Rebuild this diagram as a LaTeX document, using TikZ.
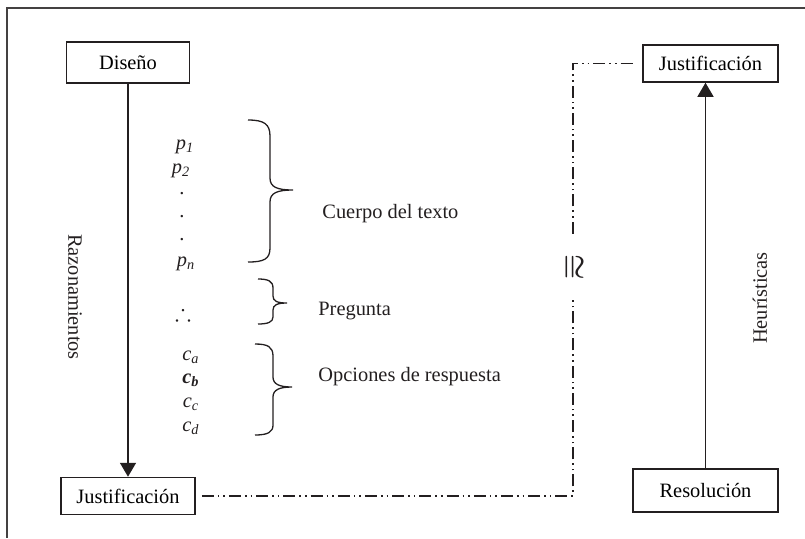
\documentclass[tikz,border=0pt]{standalone}
\usepackage{fontspec}
\usepackage{amssymb}
\setmainfont{Liberation Serif}
\usetikzlibrary{arrows.meta,calc}
\definecolor{ink}{HTML}{231F20}
\tikzset{
  box/.style={draw=ink,line width=0.75pt,inner sep=0pt,align=center,font=\fontsize{10.2}{12}\selectfont},
  txt/.style={inner sep=0pt,text=ink,font=\fontsize{10.2}{12}\selectfont},
  conn/.style={draw=ink,line width=0.75pt},
  arr/.style={conn,-{Triangle[width=8pt,length=7pt]}},
  dd/.style={draw=ink,line width=0.7pt,dash pattern=on 6pt off 2pt on 0.8pt off 2pt on 0.8pt off 2pt},
  brace/.style={draw=ink,line width=0.65pt},
  frame/.style={draw=ink!85,line width=0.65pt},
  congstyle/.style={inner sep=0pt,text=ink,rotate=-90,minimum width=33pt,font=\boldmath\fontsize{15}{16}\selectfont}
}
\begin{document}
\begin{tikzpicture}[x=0.5pt,y=-0.5pt]
\useasboundingbox (0,0) rectangle (805,538);
\draw[frame] (805,8) -- (7,8) -- (7,538);

% boxes
\node[box,minimum width=61.5pt,minimum height=20.5pt] (dis) at (128,62.5) {Diseño};
\node[box,minimum width=67pt,minimum height=18.5pt] (jus1) at (128,496) {Justificación};
\node[box,minimum width=67.5pt,minimum height=18.5pt] (jus2) at (710.5,63.5) {Justificación};
\node[box,minimum width=72.5pt,minimum height=21.5pt] (res) at (705.5,490.5) {Resolución};

% main arrows
\draw[arr] (dis) -- (jus1);
\draw[arr] (res.north) -- (res.north |- jus2.south);

% side labels
\node[txt,rotate=-90] (raz) at (75,297) {Razonamientos};
\node[txt,rotate=90] (heu) at (760,298) {Heurísticas};

% congruence and dash-dot connector
\node[congstyle] (cong) at (573,267) {$\cong$};
\draw[dd] ([xshift=3pt]jus1.east) -| (cong);
\draw[dd] (cong) |- ([xshift=-3.5pt]jus2.west);

% propositions
\node[txt] (p1) at (185,147) {\textit{p\textsubscript{1}}};
\node[txt] (p2) at (181,171) {\textit{p\textsubscript{2}}};
\node[txt] (d1) at (182,194) {.};
\node[txt] (d2) at (182,217) {.};
\node[txt] (d3) at (182,240) {.};
\node[txt] (pn) at (186,264) {\textit{p\textsubscript{n}}};
\node[txt,font=\fontsize{12}{14}\selectfont] (th) at (183,312) {$\therefore$};
\node[txt] (ca) at (191,357) {\textit{c\textsubscript{a}}};
\node[txt] (cb) at (191,380) {\textbf{\textit{c\textsubscript{b}}}};
\node[txt] (cc) at (191,404) {\textit{c\textsubscript{c}}};
\node[txt] (cd) at (191,428) {\textit{c\textsubscript{d}}};

% braces
\draw[brace] (248,120) .. controls (264,120) and (270,124) .. (270,136) -- (270,178)
  .. controls (270,187) and (277,190) .. (293,190)
  .. controls (277,190) and (270,193) .. (270,202) -- (270,248)
  .. controls (270,259) and (264,262) .. (248,262);
\draw[brace] (258,279) .. controls (268,279) and (273,281) .. (273,288) -- (273,296)
  .. controls (273,301) and (277,303) .. (287,303)
  .. controls (277,303) and (273,305) .. (273,310) -- (273,317)
  .. controls (273,322) and (268,324) .. (258,324);
\draw[brace] (255,344) .. controls (268,344) and (273,347) .. (273,356) -- (273,377)
  .. controls (273,384) and (279,387) .. (292,387)
  .. controls (279,387) and (273,390) .. (273,397) -- (273,425)
  .. controls (273,432) and (268,435) .. (255,435);

% brace labels
\node[txt,anchor=west] (cuerpo) at (322,214) {Cuerpo del texto};
\node[txt,anchor=west] (preg) at (318,311) {Pregunta};
\node[txt,anchor=west] (opc) at (318,377) {Opciones de respuesta};
\end{tikzpicture}
\end{document}
